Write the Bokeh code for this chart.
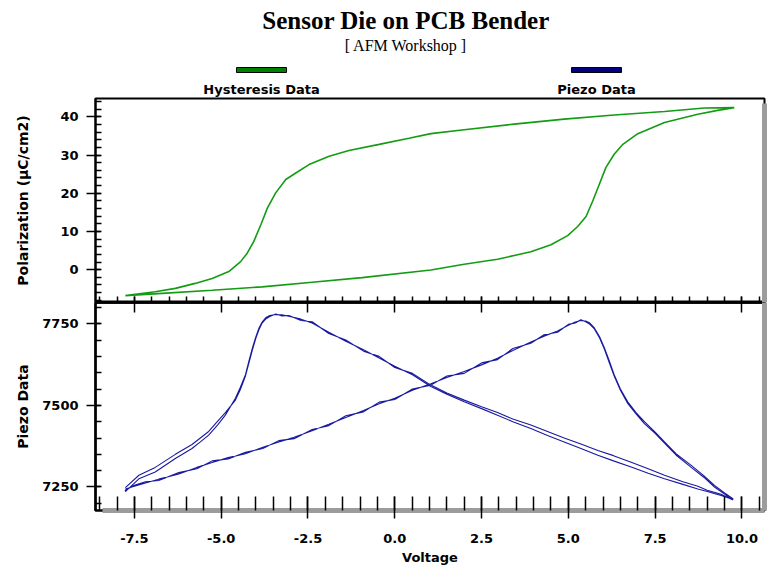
from bokeh.plotting import figure
from bokeh.layouts import column
from bokeh.models import (Range1d, LinearAxis, SingleIntervalTicker, FixedTicker,
                          NumeralTickFormatter)
from bokeh.core.properties import value
from bokeh.embed import file_html
from bokeh.resources import INLINE

# ---------------- text ----------------
TITLE = "Sensor Die on PCB Bender"
SUBTITLE = "[ AFM Workshop ]"
SERIES_NAMES = ["Hysteresis Data", "Piezo Data"]
X_LABEL = "Voltage"
Y_LABEL_TOP = "Polarization (µC/cm2)"
Y_LABEL_BOTTOM = "Piezo Data"

# ---------------- axes ----------------
X_RANGE = (-8.62, 10.65)
Y_RANGE_TOP = (-8.6, 44.8)
Y_RANGE_BOTTOM = (7178, 7815)
X_TICK_STEP = 2.5
Y_TICK_STEP_TOP = 10
Y_TICK_STEP_BOTTOM = 250

# ---------------- hysteresis (polarization) data ----------------
hyst_up_v = [-7.76, -6.7, -5.26, -3.82, -2.38, -0.94, 1.04, 2.0, 2.96, 3.92,
             4.5, 4.98, 5.27, 5.51, 5.70, 5.89, 6.08, 6.32, 6.57, 7.0, 7.77,
             8.73, 9.3, 9.78]
hyst_up_p = [-6.8, -6.2, -5.4, -4.5, -3.3, -2.1, -0.1, 1.4, 2.7, 4.7,
             6.5, 8.9, 11.3, 13.9, 17.9, 22.3, 26.7, 30.2, 32.8, 35.6, 38.5,
             40.7, 41.7, 42.4]
hyst_down_v = [9.78, 8.92, 7.77, 6.32, 4.88, 3.44, 2.0, 1.04, 0.41, -0.45,
               -1.32, -1.89, -2.47, -2.85, -3.14, -3.43, -3.67, -3.86, -4.06,
               -4.25, -4.44, -4.78, -5.26, -5.75, -6.32, -6.9, -7.76]
hyst_down_p = [42.4, 42.3, 41.4, 40.5, 39.4, 38.1, 36.6, 35.6, 34.4, 32.8,
               31.2, 29.7, 27.5, 25.3, 23.6, 20.1, 16.1, 11.7, 7.4,
               4.3, 2.1, -0.5, -2.3, -3.6, -4.9, -5.8, -6.8]

# ---------------- piezo data (two cycles) ----------------
piezo_up_v = [-7.76, -7.5, -7.18, -6.8, -6.22, -5.7, -5.26, -4.8, -4.3, -3.8,
              -3.34, -2.9, -2.38, -1.9, -1.41, -0.9, -0.45, 0.0, 0.51, 1.04,
              1.5, 2.0, 2.5, 2.96, 3.4, 3.92, 4.3, 4.69, 5.0, 5.2,
              5.36, 5.5, 5.62, 5.75, 5.9, 6.04, 6.18, 6.32, 6.5, 6.71,
              6.95, 7.19, 7.5, 7.77, 8.1, 8.54, 8.9, 9.21, 9.5, 9.74]
piezo_down_v = [9.74, 9.4, 9.0, 8.73, 8.3, 7.77, 7.3, 6.81, 6.3, 5.85,
                5.4, 4.88, 4.4, 3.92, 3.4, 2.96, 2.5, 2.0, 1.5, 1.04,
                0.51, 0.0, -0.45, -0.9, -1.41, -1.9, -2.38, -2.7, -3.05, -3.25,
                -3.43, -3.6, -3.72, -3.82, -3.91, -4.0, -4.1, -4.2, -4.3, -4.45,
                -4.59, -4.88, -5.1, -5.36, -5.6, -5.84, -6.32, -6.9, -7.37, -7.76]
piezo_c1_up = [7244, 7252, 7262, 7274, 7290, 7310, 7325, 7340, 7352, 7372,
               7388, 7402, 7422, 7442, 7463, 7484, 7505, 7522, 7546, 7566,
               7585, 7604, 7624, 7644, 7668, 7694, 7712, 7728, 7745, 7755,
               7760, 7758, 7752, 7737, 7710, 7676, 7636, 7594, 7550, 7511,
               7478, 7450, 7418, 7388, 7352, 7316, 7285, 7255, 7232, 7214]
piezo_c1_down = [7212, 7224, 7236, 7244, 7258, 7275, 7292, 7311, 7330, 7347,
                 7366, 7388, 7408, 7429, 7450, 7470, 7490, 7511, 7534, 7558,
                 7594, 7620, 7645, 7670, 7696, 7724, 7752, 7764, 7773, 7777,
                 7778, 7775, 7768, 7755, 7737, 7710, 7676, 7636, 7594, 7555,
                 7522, 7470, 7440, 7409, 7388, 7368, 7337, 7296, 7275, 7236]
piezo_c2_up = [7240, 7255, 7266, 7270, 7294, 7306, 7330, 7336, 7356, 7368,
               7392, 7398, 7426, 7438, 7468, 7480, 7510, 7518, 7550, 7562,
               7590, 7598, 7630, 7640, 7674, 7690, 7716, 7724, 7748, 7752,
               7762, 7756, 7748, 7734, 7706, 7672, 7630, 7590, 7546, 7506,
               7474, 7444, 7414, 7384, 7348, 7310, 7280, 7250, 7228, 7210]
piezo_c2_down = [7210, 7228, 7240, 7252, 7266, 7286, 7306, 7326, 7346, 7362,
                 7380, 7400, 7420, 7440, 7458, 7478, 7496, 7516, 7538, 7562,
                 7598, 7616, 7650, 7666, 7700, 7720, 7756, 7760, 7775, 7774,
                 7780, 7772, 7764, 7752, 7732, 7706, 7670, 7630, 7590, 7548,
                 7516, 7478, 7452, 7420, 7400, 7380, 7350, 7310, 7286, 7248]

# ---------------- style ----------------
SANS = "DejaVu Sans"
SERIF = "Liberation Serif"
GREEN = "#139c13"
GREEN_LEGEND = "#008000"
BLUE = "#1a1aa0"
BLUE_LEGEND = "#000080"
SHADOW = "#9c9c9c"

W = 784
LEFT, RIGHT = 95, 20
FRAME_W = W - LEFT - RIGHT
HEADER_H = 97
TOP_FRAME_H = 204
BOT_FRAME_H = 208


def base_fig(**kw):
    p = figure(toolbar_location=None, output_backend="svg",
               x_axis_location=None, y_axis_location=None, **kw)
    p.grid.visible = False
    p.background_fill_color = "white"
    p.border_fill_color = "white"
    return p


def style_axis(ax):
    ax.axis_line_color = "black"
    ax.major_tick_line_color = "black"
    ax.minor_tick_line_color = "black"
    ax.major_tick_line_width = 1.5
    ax.minor_tick_line_width = 1.5
    ax.major_label_text_font = SANS
    ax.major_label_text_font_style = "bold"
    ax.major_label_text_font_size = "13px"
    ax.major_label_text_color = "black"
    ax.axis_label_text_font = SANS
    ax.axis_label_text_font_style = "bold"
    ax.axis_label_text_font_size = "14px"
    ax.axis_label_text_color = "black"


def hide_labels(ax):
    ax.major_label_text_font_size = "0px"
    ax.major_label_text_color = None
    ax.major_label_standoff = 0


def blank_axis(**kw):
    ax = LinearAxis(ticker=FixedTicker(ticks=[]), major_tick_in=0,
                    minor_tick_in=0, minor_tick_out=0, major_label_standoff=0,
                    major_tick_line_color=None, minor_tick_line_color=None,
                    **kw)
    return ax


def add_shadow(p, side, bounds="auto"):
    # transparent spacer followed by a thick grey axis line = drop shadow
    p.add_layout(blank_axis(axis_line_color=None, major_tick_out=3), side)
    p.add_layout(blank_axis(axis_line_color=SHADOW, axis_line_width=5,
                            major_tick_out=3, bounds=bounds), side)


px_x = (X_RANGE[1] - X_RANGE[0]) / FRAME_W
px_yt = (Y_RANGE_TOP[1] - Y_RANGE_TOP[0]) / TOP_FRAME_H

# ---------------- header (title + legend) ----------------
header = base_fig(frame_width=FRAME_W, frame_height=HEADER_H,
                  min_border_left=LEFT, min_border_right=RIGHT,
                  min_border_top=0, min_border_bottom=0,
                  x_range=Range1d(LEFT, W - RIGHT), y_range=Range1d(HEADER_H, 0))
header.outline_line_color = None
header.text(x=[405.5], y=[20], text=[TITLE], text_font=value(SERIF),
            text_font_style="bold", text_font_size="25px",
            text_align="center", text_baseline="middle", text_color="black")
header.text(x=[405.5], y=[44.5], text=[SUBTITLE], text_font=value(SERIF),
            text_font_size="16px", text_align="center",
            text_baseline="middle", text_color="black")
legend_cx = [261, 596]
header.rect(x=legend_cx, y=[69.5, 69.5], width=50, height=5,
            fill_color=[GREEN_LEGEND, BLUE_LEGEND], line_color="black",
            line_width=1)
header.text(x=legend_cx, y=[89, 89], text=SERIES_NAMES, text_font=value(SANS),
            text_font_style="bold", text_font_size="13px",
            text_align="center", text_baseline="middle", text_color="black")

# ---------------- top panel ----------------
top = base_fig(frame_width=FRAME_W, frame_height=TOP_FRAME_H,
               min_border_left=LEFT, min_border_right=RIGHT,
               min_border_top=1, min_border_bottom=0,
               x_range=Range1d(*X_RANGE), y_range=Range1d(*Y_RANGE_TOP))
top.outline_line_color = "black"
top.outline_line_width = 2

ly = LinearAxis(ticker=SingleIntervalTicker(interval=Y_TICK_STEP_TOP, num_minor_ticks=5),
                axis_label=Y_LABEL_TOP)
style_axis(ly)
ly.axis_line_width = 2
ly.major_tick_out = 9
ly.major_tick_in = 5
ly.minor_tick_in = 6
ly.minor_tick_out = 0
ly.major_label_standoff = 8
ly.axis_label_standoff = 26
top.add_layout(ly, "left")

bx = LinearAxis(ticker=SingleIntervalTicker(interval=X_TICK_STEP, num_minor_ticks=5))
style_axis(bx)
hide_labels(bx)
bx.axis_line_width = 2.5
bx.major_tick_out = 0
bx.major_tick_in = 6
bx.minor_tick_in = 6
bx.minor_tick_out = 0
top.add_layout(bx, "below")

add_shadow(top, "right", bounds=(Y_RANGE_TOP[0], Y_RANGE_TOP[1] - 5 * px_yt))

top.line(hyst_up_v + hyst_down_v, hyst_up_p + hyst_down_p,
         line_color=GREEN, line_width=1.6)

# ---------------- bottom panel ----------------
bot = base_fig(frame_width=FRAME_W, frame_height=BOT_FRAME_H,
               min_border_left=LEFT, min_border_right=RIGHT,
               min_border_top=0, min_border_bottom=40,
               x_range=top.x_range, y_range=Range1d(*Y_RANGE_BOTTOM))
bot.outline_line_color = "black"
bot.outline_line_width = 2.5

ly2 = LinearAxis(ticker=SingleIntervalTicker(interval=Y_TICK_STEP_BOTTOM, num_minor_ticks=5),
                 axis_label=Y_LABEL_BOTTOM)
style_axis(ly2)
ly2.axis_line_width = 2
ly2.major_tick_out = 9
ly2.major_tick_in = 5
ly2.minor_tick_in = 6
ly2.minor_tick_out = 0
ly2.major_label_standoff = 8
ly2.axis_label_standoff = 8
bot.add_layout(ly2, "left")

ax_top = LinearAxis(ticker=SingleIntervalTicker(interval=X_TICK_STEP, num_minor_ticks=5))
style_axis(ax_top)
hide_labels(ax_top)
ax_top.axis_line_width = 2.5
ax_top.major_tick_out = 0
ax_top.major_tick_in = 10
ax_top.minor_tick_in = 0
ax_top.minor_tick_out = 0
bot.add_layout(ax_top, "above")

add_shadow(bot, "right")
add_shadow(bot, "below", bounds=(X_RANGE[0] + 7 * px_x, X_RANGE[1] + 6 * px_x))

bx2 = LinearAxis(ticker=SingleIntervalTicker(interval=X_TICK_STEP, num_minor_ticks=5),
                 formatter=NumeralTickFormatter(format="0.0"), axis_label=X_LABEL)
style_axis(bx2)
bx2.axis_label_text_font_size = "13px"
bx2.axis_line_color = None
bx2.major_tick_out = 8
bx2.major_tick_in = 14
bx2.minor_tick_in = 14
bx2.minor_tick_out = 0
bx2.major_label_standoff = 15
bx2.axis_label_standoff = 4
bot.add_layout(bx2, "below")

pv = piezo_up_v + piezo_down_v + piezo_up_v + piezo_down_v
pz = piezo_c1_up + piezo_c1_down + piezo_c2_up + piezo_c2_down
bot.line(pv, pz, line_color=BLUE, line_width=1.1)

layout = column(header, top, bot, spacing=0)
open("out.html", "w").write(file_html(layout, INLINE))
